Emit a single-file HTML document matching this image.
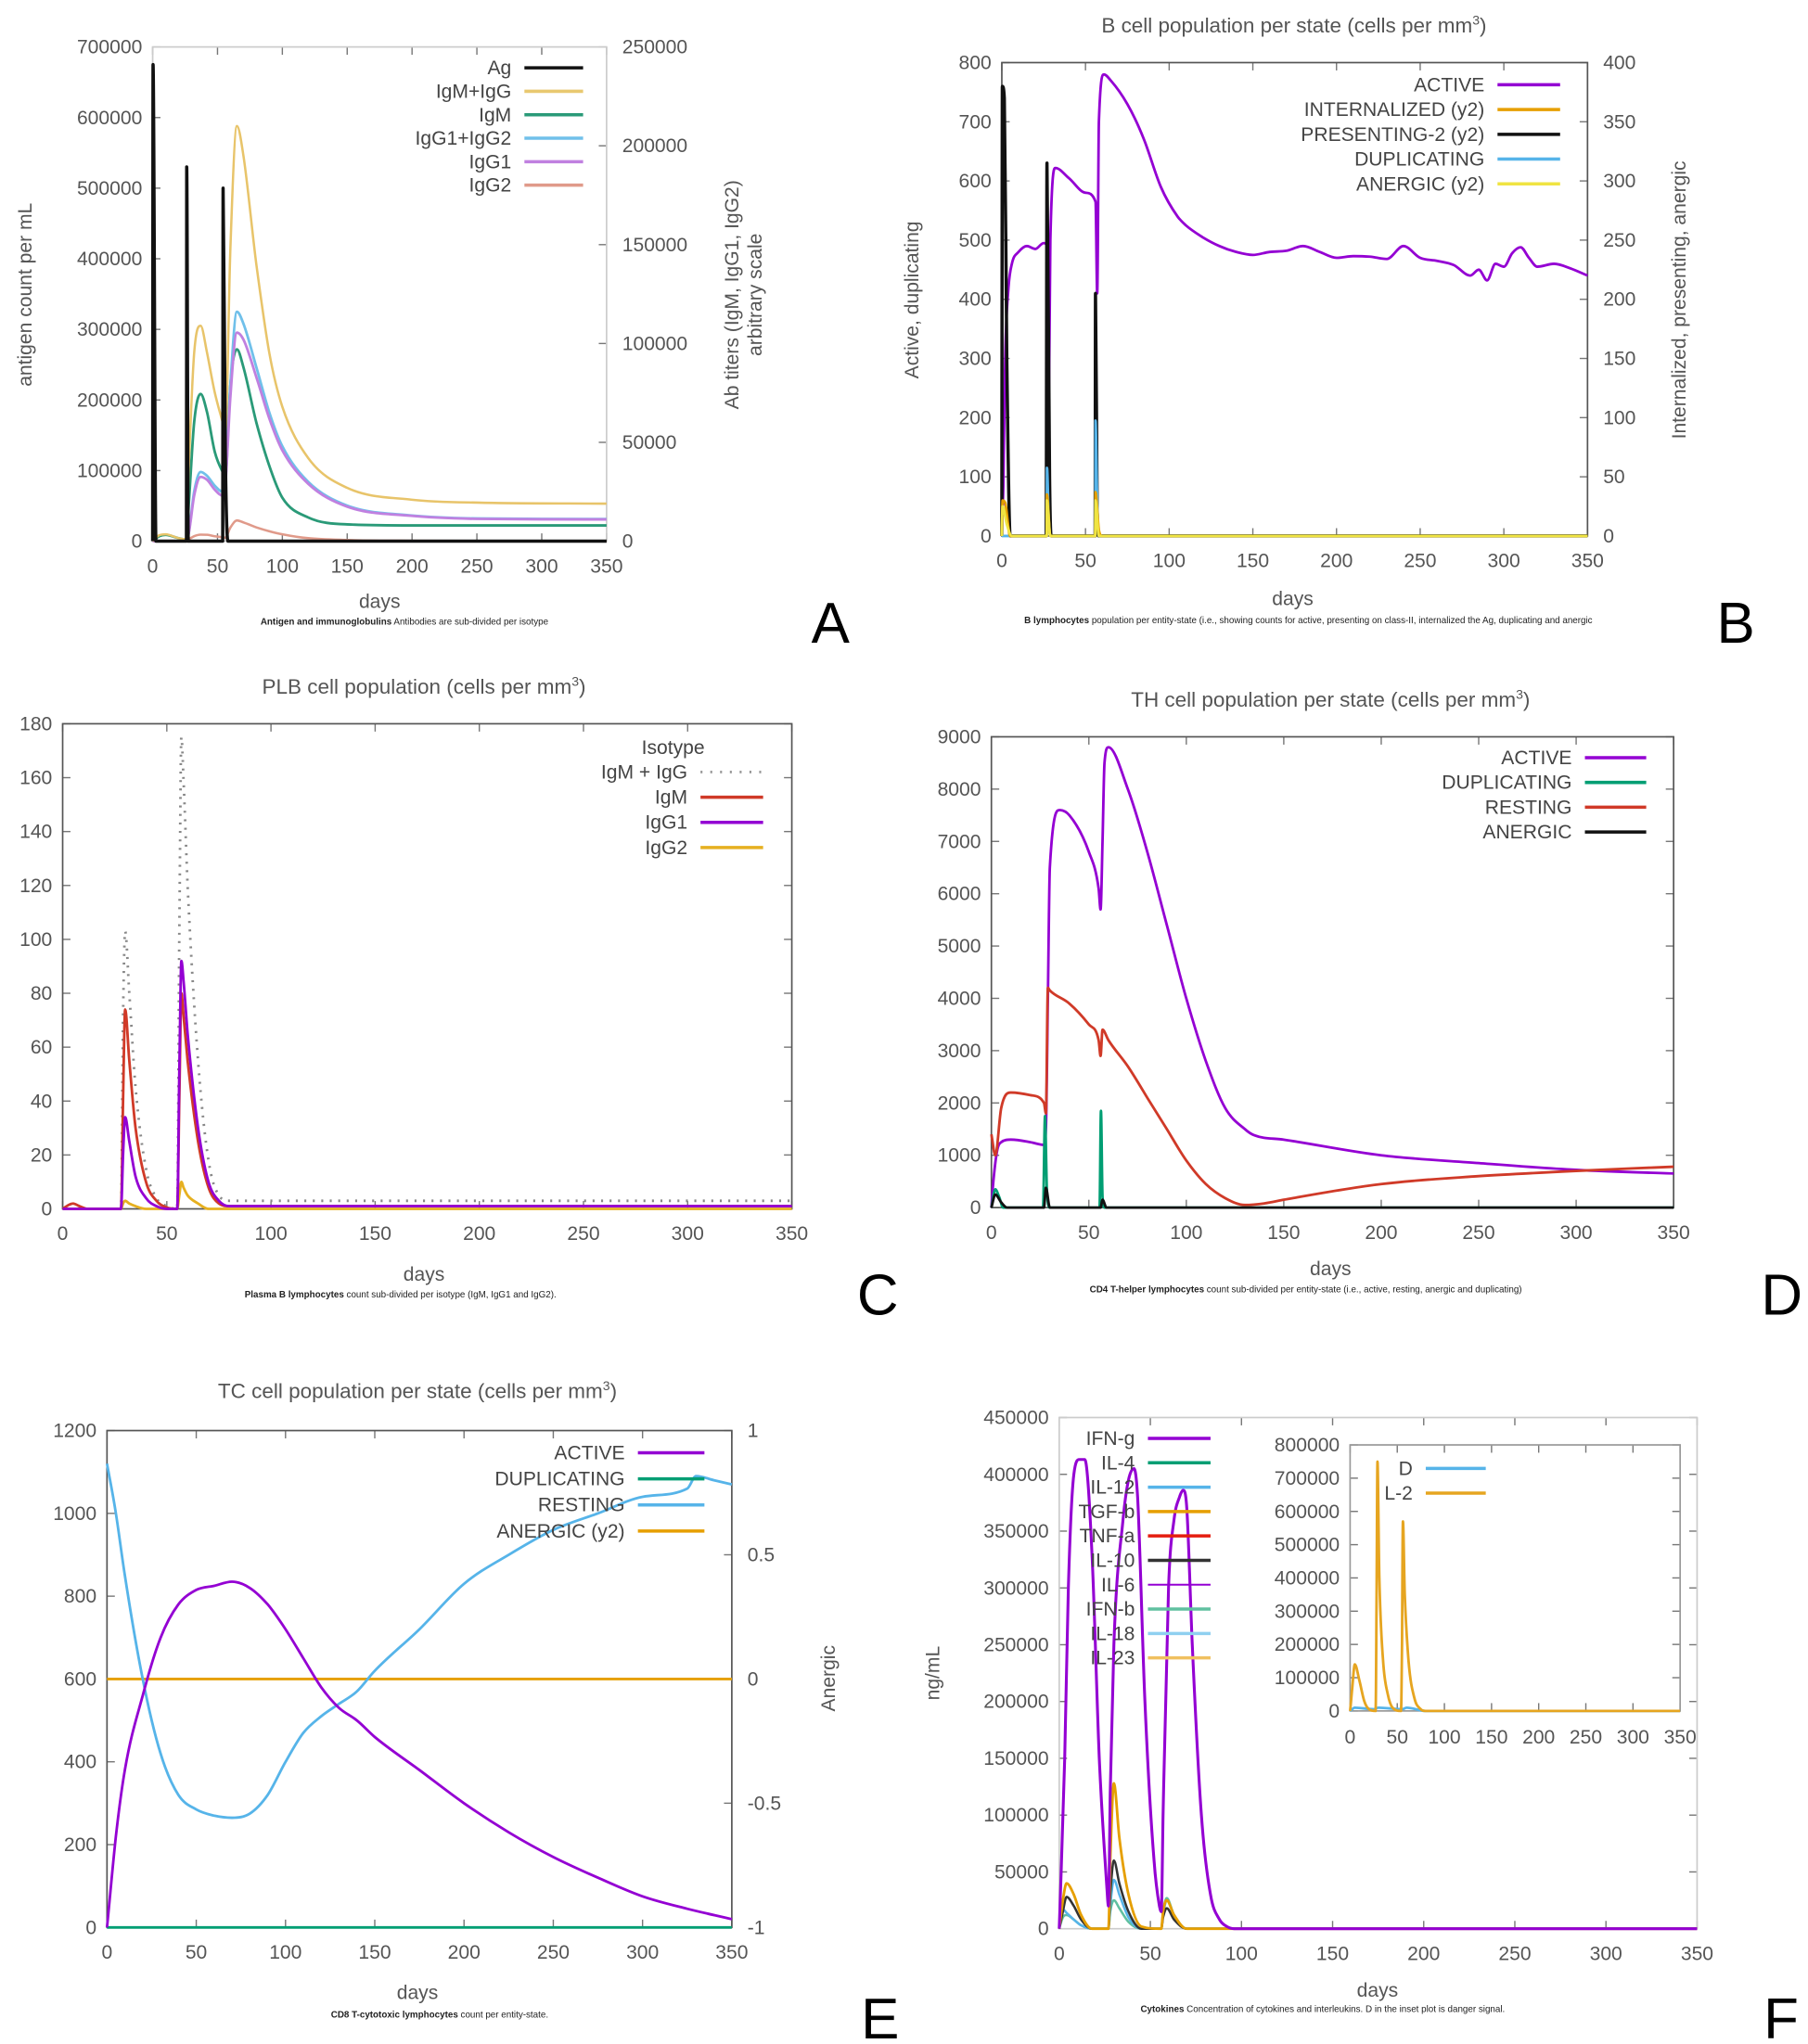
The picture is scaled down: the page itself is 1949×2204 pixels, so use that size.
<!DOCTYPE html>
<html><head><meta charset="utf-8"><style>
html,body{margin:0;padding:0;background:#fff}
svg{display:block}
text{font-family:"Liberation Sans",sans-serif}
</style></head><body>
<svg id="fig" width="1949" height="2204" viewBox="0 0 1386 1567.4" xmlns="http://www.w3.org/2000/svg"></svg>
<script>
// ---------- Panel A data ----------
const A_agDays=[0,0.3,2.5,26,26.3,27.5,54,54.3,56,58,350];
const A_ag=[0,675000,0,0,530000,0,0,500000,130000,0,0];
const A_days=[0,5,10,20,26,28,32,37,42,48,54,56,60,65,70,80,90,100,120,150,200,250,350];
const A_igmIgg=[0,3000,3500,1500,1000,40000,95000,109000,95000,75000,60000,55000,150000,210000,195000,140000,95000,68000,42000,27000,21000,19500,19000];
const A_igm=[0,2500,3200,1500,800,20000,60000,74500,65000,45000,35000,33000,80000,97000,88000,60000,38000,22000,12000,8500,8000,8000,8000];
const A_igg12=[0,0,0,0,0,5000,25000,35000,33000,28000,25000,30000,80000,116000,110000,88000,65000,48000,30000,18000,13000,11500,11200];
const A_igg1=[0,0,0,0,0,4500,23000,32500,31000,26000,23000,28000,74000,105500,102000,83000,62000,46000,29000,17500,12800,11300,11000];
const A_igg2=[0,0,0,0,0,1000,2500,3300,3200,2500,2000,1800,7000,10500,9500,7000,5000,3500,1500,600,200,100,0];
// ---------- Panel B data ----------
const B_actDays=[0,1,2,4,6,10,15,20,25,27,28,29,32,40,50,56,57,58,61,65,75,85,95,105,110,120,130,140,150,160,170,180,190,200,210,220,230,240,250,260,270,280,285,290,295,300,305,310,315,320,330,340,350];
const B_active=[0,100,300,420,460,480,490,485,495,490,200,500,622,605,580,565,410,700,780,770,730,670,590,540,525,505,490,480,475,480,482,490,480,470,473,472,468,490,470,465,458,440,450,432,460,455,478,488,470,455,460,452,440];
const B_presDays=[0,0.3,1.5,3,5,26.5,27,28.5,29.5,55.7,56,57,58,350];
const B_pres=[0,380,370,150,0,0,315,50,0,0,205,20,0,0];
const B_dupDays=[0,26.8,27,28,29,55.8,56,57,58,350];
const B_dup=[0,0,115,30,0,0,195,60,0,0];
const B_intDays=[0,0.5,2,5,26.8,27,29,55.8,56,58,60,350];
const B_int=[0,30,28,0,0,35,0,0,37,5,0,0];
const B_anDays=[0,0.5,3,6,26.8,27,29,55.8,56,58,60,350];
const B_an=[0,25,10,0,0,30,0,0,30,0,0,0];
// ---------- Panel C data ----------
const C_days=[0,3,5,8,12,28,29,30,32,35,40,45,50,55,56,57,58,60,65,70,75,80,350];
const C_igm=[0,1.5,2,1,0,0,40,74,55,30,10,3,0.5,0,40,80,72,55,25,8,2,1,1];
const C_igg1=[0,0,0,0,0,0,20,34,25,12,4,1,0,0,50,92,85,65,30,10,3,1,1];
const C_igg2=[0,0,0,0,0,0,2,3,2,1,0,0,0,0,5,10,8,5,2,0,0,0,0];
const C_total=[0,1.5,2,1,0,0,70,103,80,45,15,4,1,0,100,175,160,120,55,18,5,3,3];
// ---------- Panel D data ----------
const D_actDays=[0,1,3,5,10,20,27,28,29,30,35,40,50,55,56,57,58,60,70,80,90,100,110,120,130,135,150,200,250,300,350];
const D_active=[0,500,1100,1250,1300,1250,1200,1500,4000,6500,7600,7500,6800,6100,5700,7000,8500,8800,8000,6800,5400,4000,2800,1900,1500,1380,1300,1000,850,720,650];
const D_resDays=[0,2,5,10,20,27,28,29,30,40,50,55,56,57,60,70,80,90,100,110,120,130,140,150,200,250,300,330,350];
const D_resting=[1400,1000,1900,2200,2150,2000,1800,4200,4150,3900,3500,3200,2900,3400,3200,2700,2100,1500,900,450,180,50,80,150,450,600,700,750,780];
const D_dupDays=[0,2,4,6,26.5,27.5,28.5,30,55.5,56.2,57,58,350];
const D_dup=[0,350,200,0,0,1750,300,0,0,1850,200,0,0];
const D_anDays=[0,2,5,8,27,28,30,56,57,59,350];
const D_anergic=[0,250,100,0,0,380,0,0,150,0,0];
// ---------- Panel E data ----------
const E_actDays=[0,5,10,20,30,40,50,60,70,80,90,100,110,120,130,140,150,175,200,225,250,275,300,325,350];
const E_active=[0,220,380,560,700,780,815,825,835,820,780,720,650,580,530,500,460,380,300,230,170,120,75,45,20];
const E_resDays=[0,5,10,20,30,40,50,60,70,80,90,100,110,120,130,140,150,175,200,225,250,275,300,325,330,340,350];
const E_resting=[1120,1000,850,600,420,320,285,270,265,275,320,400,470,510,540,570,620,720,830,900,960,1000,1040,1060,1090,1080,1070];
const E_flatDays=[0,350];
const E_dup=[0,0];
const E_anergic=[0,0];
// ---------- Panel F data ----------
const F_ifnDays=[0,3,5,8,11,14,18,22,26,27,28,30,35,38,41,43,47,52,55,56,57,60,63,66,68,70,73,78,83,88,92,96,100,350];
const F_ifng=[0,150000,300000,400000,413000,413000,330000,150000,40000,20000,120000,250000,360000,395000,405000,380000,200000,60000,20000,15000,100000,300000,360000,380000,386000,370000,250000,100000,30000,8000,2000,0,0,0];
const F_days=[0,2,4,8,12,18,27,28,30,33,38,45,56,57,59,63,70,350];
const F_tgfb=[0,25000,40000,30000,12000,0,0,60000,128000,80000,30000,2000,0,15000,25000,12000,0,0];
const F_il10=[0,15000,28000,20000,8000,0,0,30000,60000,40000,15000,0,0,10000,18000,8000,0,0];
const F_il12=[0,17000,14000,8000,3000,0,0,20000,43000,30000,10000,0,0,12000,25000,12000,0,0];
const F_ifnb=[0,10000,12000,8000,3000,0,0,15000,25000,18000,6000,0,0,15000,27000,12000,0,0];
const F_il2Days=[0,2,5,10,15,20,27,28,29,31,35,40,45,54,55,56,58,62,68,75,80,350];
const F_il2=[0,60000,140000,90000,30000,5000,0,300000,750000,400000,150000,50000,10000,0,200000,570000,350000,150000,40000,5000,0,0];
const F_dDays=[0,5,25,30,55,60,80,350];
const F_d=[0,10000,5000,10000,5000,10000,0,0];
const X_ticks=[0,50,100,150,200,250,300,350];

const NS='http://www.w3.org/2000/svg';
const svg=document.getElementById('fig');
function el(tag,attrs,parent,txt){const e=document.createElementNS(NS,tag);for(const k in attrs)e.setAttribute(k,attrs[k]);if(txt!==undefined)e.textContent=txt;(parent||svg).appendChild(e);return e;}

function panel(p){
  const g=el('g',{});
  
  
  p.g=g;
  if(p.bg) el('rect',{x:p.x0,y:p.y0,width:p.x1-p.x0,height:p.y1-p.y0,fill:'#fff'},g);
  p.sx=v=>p.x0+(v-p.xmin)/(p.xmax-p.xmin)*(p.x1-p.x0);
  p.sy=v=>p.y1-(v-p.ymin)/(p.ymax-p.ymin)*(p.y1-p.y0);
  if(p.y2) p.sy2=v=>p.y1-(v-p.y2[0])/(p.y2[1]-p.y2[0])*(p.y1-p.y0);
  const fs=p.fs||15;
  const ya=el('g',{},g);
  for(let v=p.ymin;v<=p.ymax+1e-9;v+=p.ystep){
    const y=p.sy(v);
    el('line',{x1:p.x0,x2:p.x0+6,y1:y,y2:y,stroke:'#777','stroke-width':1},ya);
    if(!p.y2) el('line',{x1:p.x1,x2:p.x1-6,y1:y,y2:y,stroke:'#777','stroke-width':1},ya);
    const t=el('text',{x:p.x0-8,y:y+5,'text-anchor':'end','font-size':fs,fill:'#555'},ya,String(Math.round(v*100)/100));
    
    
  }
  if(p.y2){
    const ya2=el('g',{},g);
    for(let v=p.y2[0];v<=p.y2[1]+1e-9;v+=p.y2[2]){
      const y=p.sy2(v);
      el('line',{x1:p.x1,x2:p.x1-6,y1:y,y2:y,stroke:'#777','stroke-width':1},ya2);
      const t=el('text',{x:p.x1+12,y:y+5,'text-anchor':'start','font-size':fs,fill:'#555'},ya2,String(Math.round(v*100)/100));
      
      
    }
  }
  const xa=el('g',{},g);
  X_ticks.forEach(v=>{
    const x=p.sx(v);
    el('line',{x1:x,x2:x,y1:p.y1,y2:p.y1-6,stroke:'#777','stroke-width':1},xa);
    el('line',{x1:x,x2:x,y1:p.y0,y2:p.y0+6,stroke:'#777','stroke-width':1},xa);
    const t=el('text',{x:x,y:p.y1+(p.xlo||24),'text-anchor':'middle','font-size':fs,fill:'#555'},xa,String(v));
    
    
  });
  const b=el('rect',{x:p.x0,y:p.y0,width:p.x1-p.x0,height:p.y1-p.y0,fill:'none',stroke:p.border||'#555','stroke-width':1.2},g);
  
  
  return p;
}
// monotone cubic path through points
function monoPath(xs,ys){
  const n=xs.length;if(n<3){return 'M'+xs.map((x,i)=>x.toFixed(1)+','+ys[i].toFixed(1)).join(' L');}
  const d=[],m=new Array(n);
  for(let i=0;i<n-1;i++){const h=xs[i+1]-xs[i];d.push(h===0?0:(ys[i+1]-ys[i])/h);}
  m[0]=d[0];m[n-1]=d[n-2];
  for(let i=1;i<n-1;i++){m[i]=(d[i-1]*d[i]<=0)?0:(d[i-1]+d[i])/2;}
  for(let i=0;i<n-1;i++){
    if(d[i]===0){m[i]=0;m[i+1]=0;continue;}
    const a=m[i]/d[i],b=m[i+1]/d[i],s=a*a+b*b;
    if(s>9){const t=3/Math.sqrt(s);m[i]=t*a*d[i];m[i+1]=t*b*d[i];}
  }
  let p='M'+xs[0].toFixed(1)+','+ys[0].toFixed(1);
  for(let i=0;i<n-1;i++){
    const h=(xs[i+1]-xs[i])/3;
    p+=' C'+(xs[i]+h).toFixed(1)+','+(ys[i]+m[i]*h).toFixed(1)+' '+(xs[i+1]-h).toFixed(1)+','+(ys[i+1]-m[i+1]*h).toFixed(1)+' '+xs[i+1].toFixed(1)+','+ys[i+1].toFixed(1);
  }
  return p;
}
function series(p,days,vals,color,w,name,opt){
  opt=opt||{};
  const sy=opt.y2?p.sy2:p.sy;
  const xs=days.map(d=>p.sx(d)),ys=vals.map(v=>sy(v));
  const l=el('path',{d:monoPath(xs,ys),fill:'none',stroke:color,'stroke-width':w,'stroke-linejoin':'round','stroke-dasharray':opt.dash||'none'},p.g);
  
  
}
function legend(p,items,tx,lx0,lx1,y0,step,fs){
  const lg=el('g',{},p.g);
  
  
  items.forEach((it,i)=>{
    const y=y0+i*step;
    const e=el('g',{},lg);
    
    
    el('text',{x:tx,y:y+5,'text-anchor':'end','font-size':fs||15,fill:'#444'},e,it[0]);
    el('line',{x1:lx0,x2:lx1,y1:y,y2:y,stroke:it[1],'stroke-width':it[2]||2.5,'stroke-dasharray':it[3]||'none'},e);
  });
}
function text(x,y,s,opts,name){
  const t=el('text',Object.assign({x:x,y:y,'font-size':15,fill:'#555','text-anchor':'middle'},opts||{}),svg,s);
  
  
  return t;
}
function rtext(x,y,s,name,fs){
  const t=el('text',{x:0,y:0,'font-size':fs||15,fill:'#555','text-anchor':'middle',transform:`translate(${x},${y}) rotate(-90)`},svg,s);
  
  
}
function caption(x,y,bold,rest,name){
  const t=el('text',{x:x,y:y,'font-size':7,fill:'#222','text-anchor':'middle'},svg);
  
  
  el('tspan',{'font-weight':'bold'},t,bold);
  el('tspan',{},t,rest);
}
function letter(x,y,s){
  const t=el('text',{x:x,y:y,'font-size':44,fill:'#000','font-family':'"Liberation Serif",serif'},svg,s);
  
  
}
function title(x,y,s,name){
  const t=el('text',{x:x,y:y,'font-size':16,fill:'#555','text-anchor':'middle'},svg,s);
  el('tspan',{'font-size':10,dy:-6},t,'3');
  el('tspan',{dy:6},t,')');
  
  
}

// ===== Panel A =====
const pA=panel({name:'panel-a-antigen-chart',x0:117,x1:465,y0:36,y1:415,xmin:0,xmax:350,ymin:0,ymax:700000,ystep:100000,y2:[0,250000,50000],border:'#ccc'});
series(pA,A_days,A_igg2,'#e09a8a',1.8,'igg2-line',{y2:1});
series(pA,A_days,A_igm,'#2a9a78',2,'igm-line',{y2:1});
series(pA,A_days,A_igg12,'#70c0ea',2,'igg1-igg2-line',{y2:1});
series(pA,A_days,A_igg1,'#c080e0',2,'igg1-line',{y2:1});
series(pA,A_days,A_igmIgg,'#e8c46a',1.8,'igm-igg-line',{y2:1});
series(pA,A_agDays,A_ag,'#111',2.5,'antigen-line');
legend(pA,[['Ag','#111'],['IgM+IgG','#e8c870'],['IgM','#2a9a78'],['IgG1+IgG2','#70c0ea'],['IgG1','#c080e0'],['IgG2','#e09a8a']],392,402,447,52,18);
rtext(24,226,'antigen count per mL','y-axis-title');
rtext(566,226,'Ab titers (IgM, IgG1, IgG2)','y2-axis-title');
rtext(584,226,'arbitrary scale','y2-axis-subtitle');
text(291,466,'days',{},'x-axis-title');
caption(310,479,'Antigen and immunoglobulins',' Antibodies are sub-divided per isotype','caption-a');
letter(622,493,'A');

// ===== Panel B =====
const pB=panel({name:'panel-b-bcell-chart',x0:768,x1:1217,y0:48,y1:411,xmin:0,xmax:350,ymin:0,ymax:800,ystep:100,y2:[0,400,50]});
series(pB,B_actDays,B_active,'#9400d3',2,'active-line');
series(pB,B_presDays,B_pres,'#111',2.5,'presenting-line',{y2:1});
series(pB,B_dupDays,B_dup,'#56b4e9',2,'duplicating-line');
series(pB,B_intDays,B_int,'#e69f00',2,'internalized-line',{y2:1});
series(pB,B_anDays,B_an,'#f0e442',2,'anergic-line',{y2:1});
legend(pB,[['ACTIVE','#9400d3'],['INTERNALIZED (y2)','#e69f00'],['PRESENTING-2 (y2)','#111'],['DUPLICATING','#56b4e9'],['ANERGIC (y2)','#f0e442']],1138,1148,1196,65,19);
title(992,25,'B cell population  per state (cells per mm','title-b');
rtext(704,230,'Active, duplicating','y-axis-title');
rtext(1292,230,'Internalized, presenting, anergic','y2-axis-title');
text(991,464,'days',{},'x-axis-title');
caption(1003,478,'B lymphocytes',' population per entity-state (i.e., showing counts for active, presenting on class-II, internalized the Ag, duplicating and anergic','caption-b');
letter(1316,493,'B');

// ===== Panel C =====
const pC=panel({name:'panel-c-plasma-chart',x0:48,x1:607,y0:555,y1:927,xmin:0,xmax:350,ymin:0,ymax:180,ystep:20});
series(pC,C_days,C_total,'#888',2,'igm-igg-dotted-line',{dash:'1.5,5'});
series(pC,C_days,C_igg2,'#e6b020',2,'igg2-line');
series(pC,C_days,C_igm,'#d03a28',2,'igm-line');
series(pC,C_days,C_igg1,'#9400d3',2,'igg1-line');
legend(pC,[['IgM + IgG','#999',2,'1.5,6'],['IgM','#d03a28'],['IgG1','#9400d3'],['IgG2','#e6b020']],527,537,585,592,19.3);
text(516,578,'Isotype',{fill:'#444'},'legend-title');
title(325,532,'PLB cell population (cells per mm','title-c');
text(325,982,'days',{},'x-axis-title');
caption(307,995,'Plasma B lymphocytes',' count sub-divided per isotype (IgM, IgG1 and IgG2).','caption-c');
letter(657,1008,'C');

// ===== Panel D =====
const pD=panel({name:'panel-d-th-chart',x0:760,x1:1283,y0:565,y1:926,xmin:0,xmax:350,ymin:0,ymax:9000,ystep:1000});
series(pD,D_actDays,D_active,'#9400d3',2,'active-line');
series(pD,D_resDays,D_resting,'#d03a28',2,'resting-line');
series(pD,D_dupDays,D_dup,'#009e73',2,'duplicating-line');
series(pD,D_anDays,D_anergic,'#111',2,'anergic-line');
legend(pD,[['ACTIVE','#9400d3'],['DUPLICATING','#009e73'],['RESTING','#d03a28'],['ANERGIC','#111']],1205,1215,1262,581,19);
title(1020,542,'TH cell population per state (cells per mm','title-d');
text(1020,978,'days',{},'x-axis-title');
caption(1001,991,'CD4 T-helper lymphocytes',' count sub-divided per entity-state (i.e., active, resting, anergic and duplicating)','caption-d');
letter(1350,1008,'D');

// ===== Panel E =====
const pE=panel({name:'panel-e-tc-chart',x0:82,x1:561,y0:1097,y1:1478,xmin:0,xmax:350,ymin:0,ymax:1200,ystep:200,y2:[-1,1,0.5]});
series(pE,E_flatDays,E_anergic,'#e69f00',2,'anergic-line',{y2:1});
series(pE,E_flatDays,E_dup,'#009e73',2,'duplicating-line');
series(pE,E_resDays,E_resting,'#56b4e9',2,'resting-line');
series(pE,E_actDays,E_active,'#9400d3',2,'active-line');
legend(pE,[['ACTIVE','#9400d3'],['DUPLICATING','#009e73'],['RESTING','#56b4e9'],['ANERGIC (y2)','#e69f00']],479,489,540,1114,20);
title(320,1072,'TC cell population per state (cells per mm','title-e');
rtext(640,1287,'Anergic','y2-axis-title');
text(320,1533,'days',{},'x-axis-title');
caption(337,1547,'CD8 T-cytotoxic lymphocytes',' count per entity-state.','caption-e');
letter(660,1563,'E');

// ===== Panel F =====
const pF=panel({name:'panel-f-cytokine-chart',x0:812,x1:1301,y0:1087,y1:1479,xmin:0,xmax:350,ymin:0,ymax:450000,ystep:50000,border:'#ccc'});
series(pF,F_days,F_ifnb,'#60c0a0',1.8,'ifn-b-line');
series(pF,F_days,F_il12,'#56b4e9',1.8,'il-12-line');
series(pF,F_days,F_il10,'#333',1.8,'il-10-line');
series(pF,F_days,F_tgfb,'#e69f00',2,'tgf-b-line');
series(pF,F_ifnDays,F_ifng,'#9400d3',2.2,'ifn-g-line');
legend(pF,[['IFN-g','#9400d3'],['IL-4','#009e73'],['IL-12','#56b4e9'],['TGF-b','#e69f00'],['TNF-a','#e51e10'],['IL-10','#333'],['IL-6','#9400d3',1.5],['IFN-b','#60c0a0'],['IL-18','#8fd0f0'],['IL-23','#f0c060']],870,880,928,1103,18.7);
rtext(720,1283,'ng/mL','y-axis-title');
text(1056,1531,'days',{},'x-axis-title');
caption(1014,1543,'Cytokines',' Concentration of cytokines and interleukins. D in the inset plot is danger signal.','caption-f');
letter(1352,1563,'F');
const pI=panel({name:'panel-f-inset-chart',x0:1035,x1:1288,y0:1108,y1:1312,xmin:0,xmax:350,ymin:0,ymax:800000,ystep:100000,border:'#999',bg:1,xlo:25});
series(pI,F_dDays,F_d,'#56b4e9',2,'danger-signal-line');
series(pI,F_il2Days,F_il2,'#e6a520',2,'il-2-line');
legend(pI,[['D','#56b4e9'],['L-2','#e6a520']],1083,1093,1139,1126,19);
</script>
</body></html>
